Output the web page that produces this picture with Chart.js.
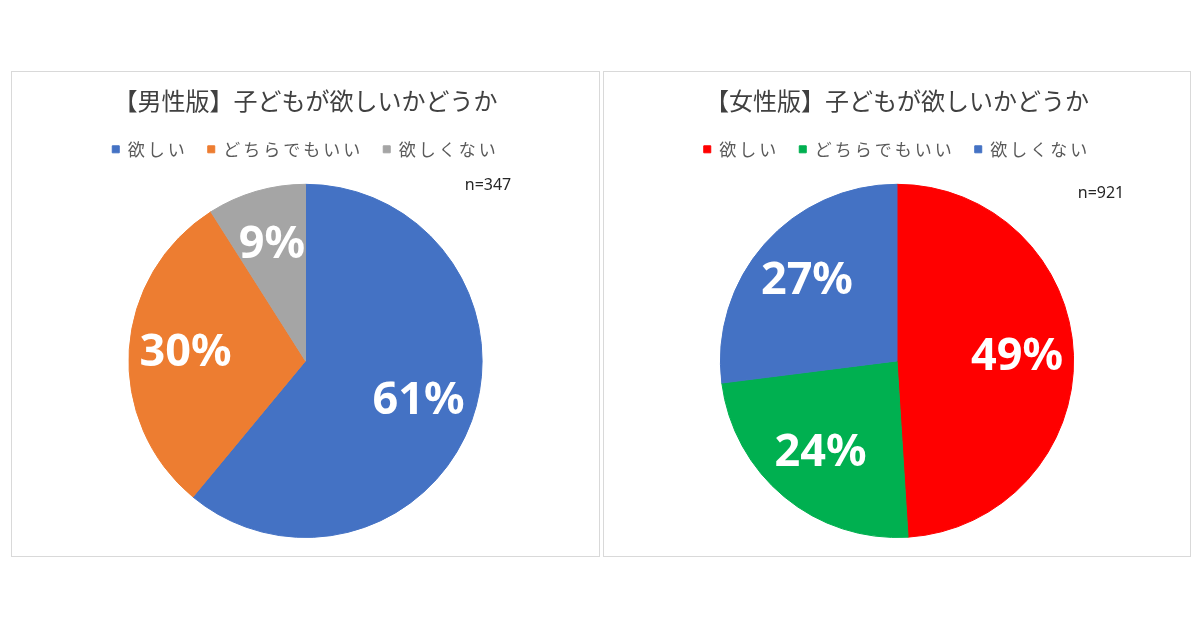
<!DOCTYPE html>
<html>
<head>
<meta charset="utf-8">
<script src="https://cdn.jsdelivr.net/npm/chart.js@4.4.1/dist/chart.umd.min.js"></script>
<style>
  body { margin: 0; background: #fff; width: 1200px; height: 630px; position: relative; overflow: hidden; }
  .panel { position: absolute; top: 71px; height: 484px; border: 1px solid #d9d9d9; background: #fff; }
  #p1 { left: 11px; width: 587px; }
  #p2 { left: 603px; width: 586px; }
</style>
</head>
<body>
<div class="panel" id="p1"><canvas id="maleChart" width="587" height="484"></canvas></div>
<div class="panel" id="p2"><canvas id="femaleChart" width="586" height="484"></canvas></div>
<script>
// カテゴリと値
const categories = ['欲しい', 'どちらでもいい', '欲しくない'];
const maleValues = [61, 30, 9];
const femaleValues = [49, 24, 27];
const maleColors = ['#4472C4', '#ED7D31', '#A5A5A5'];
const femaleColors = ['#FF0000', '#00B050', '#4472C4'];
const maleTitle = '【男性版】子どもが欲しいかどうか';
const femaleTitle = '【女性版】子どもが欲しいかどうか';
const maleN = 'n=347';
const femaleN = 'n=921';

const jpFont = "'Noto Sans CJK JP', 'Noto Sans', sans-serif";

// スライスの中に % を描く
const pctLabels = {
  id: 'pctLabels',
  afterDatasetsDraw(chart) {
    const ctx = chart.ctx;
    const meta = chart.getDatasetMeta(0);
    const values = chart.data.datasets[0].data;
    ctx.save();
    ctx.fillStyle = '#ffffff';
    ctx.font = "bold 45px 'Noto Sans', 'Open Sans', sans-serif";
    ctx.textAlign = 'center';
    ctx.textBaseline = 'middle';
    meta.data.forEach((arc, i) => {
      const p = arc.getProps(['x', 'y', 'startAngle', 'endAngle', 'outerRadius'], true);
      const mid = (p.startAngle + p.endAngle) / 2;
      const r = p.outerRadius * 0.68;
      ctx.fillText(values[i] + '%', p.x + Math.cos(mid) * r, p.y + Math.sin(mid) * r);
    });
    ctx.restore();
  }
};

// n= の表示
const sampleText = {
  id: 'sampleText',
  afterDraw(chart, args, opts) {
    const ctx = chart.ctx;
    ctx.save();
    ctx.fillStyle = '#262626';
    ctx.font = "16px 'Noto Sans', sans-serif";
    ctx.textAlign = 'center';
    ctx.textBaseline = 'middle';
    ctx.fillText(opts.text, opts.x, opts.y);
    ctx.restore();
  }
};

// 凡例の文字間隔と下の余白
const legendSpacing = {
  id: 'legendSpacing',
  beforeUpdate(chart) {
    const lg = chart.legend;
    if (!lg || lg._patched) return;
    lg._patched = true;
    const fit = lg.fit;
    const draw = lg.draw;
    lg.fit = function () {
      chart.ctx.save();
      chart.ctx.letterSpacing = '3px';
      fit.call(this);
      chart.ctx.restore();
      this.height += 16;
    };
    lg.draw = function (area) {
      chart.ctx.save();
      chart.ctx.letterSpacing = '3px';
      draw.call(this, area);
      chart.ctx.restore();
    };
  }
};

function makePie(id, title, values, colors, nText, nx, ny) {
  const ctx = document.getElementById(id).getContext('2d');
  return new Chart(ctx, {
    type: 'pie',
    data: {
      labels: categories,
      datasets: [{
        data: values,
        backgroundColor: colors,
        borderColor: colors,
        borderWidth: 1
      }]
    },
    options: {
      responsive: false,
      animation: false,
      layout: { padding: { bottom: 18 } },
      plugins: {
        title: {
          display: true,
          text: title,
          color: '#404040',
          font: { size: 24, family: jpFont, weight: 'normal' },
          padding: { top: 14, bottom: 6 }
        },
        legend: {
          position: 'top',
          labels: {
            boxWidth: 7,
            boxHeight: 7,
            padding: 20,
            color: '#595959',
            font: { size: 17, family: jpFont }
          }
        },
        tooltip: { enabled: false },
        sampleText: { text: nText, x: nx, y: ny }
      }
    },
    plugins: [legendSpacing, pctLabels, sampleText]
  });
}

makePie('maleChart', maleTitle, maleValues, maleColors, maleN, 476, 113);
makePie('femaleChart', femaleTitle, femaleValues, femaleColors, femaleN, 497, 121);
</script>
</body>
</html>
